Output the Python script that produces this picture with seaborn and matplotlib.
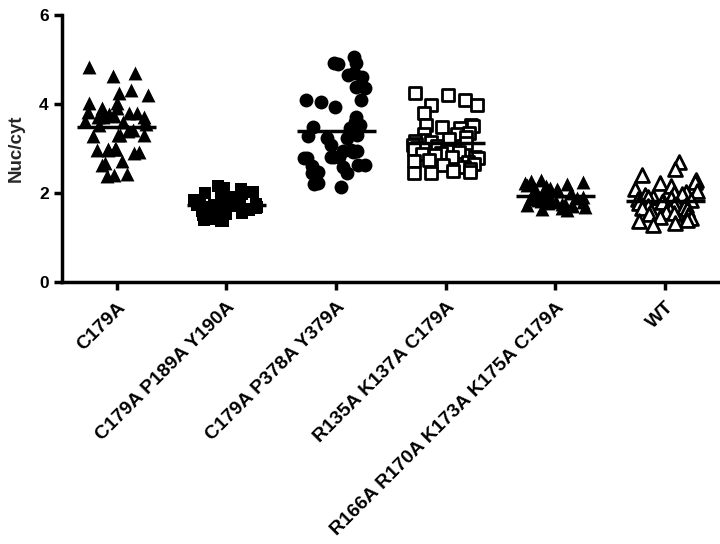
import numpy as np
import pandas as pd
import matplotlib
matplotlib.use("Agg")
import matplotlib.pyplot as plt
import seaborn as sns

# Nuclear/cytoplasmic ratio per construct
categories = [
    "C179A",
    "C179A P189A Y190A",
    "C179A P378A Y379A",
    "R135A K137A C179A",
    "R166A R170A K173A K175A C179A",
    "WT",
]

c179a = [4.84, 4.69, 4.64, 4.31, 4.20, 4.24, 4.02, 4.02, 3.90, 3.90, 3.80,
         3.80, 3.78, 3.82, 3.71, 3.71, 3.70, 3.72, 3.60, 3.61, 3.59, 3.55,
         3.53, 3.30, 3.31, 3.29, 3.30, 3.41, 3.40, 2.99, 2.97, 3.00, 2.98,
         2.99, 2.96, 2.92, 2.90, 2.67, 2.72, 2.64, 2.40, 2.38, 2.42]

c179a_p189a_y190a = [2.15, 2.12, 2.08, 2.05, 2.02, 2.00, 1.98, 1.95, 1.93,
                     1.90, 1.88, 1.86, 1.84, 1.82, 1.80, 1.79, 1.77, 1.76,
                     1.75, 1.74, 1.72, 1.70, 1.69, 1.68, 1.66, 1.64, 1.63,
                     1.61, 1.60, 1.58, 1.56, 1.55, 1.53, 1.50, 1.48, 1.45,
                     1.42, 1.40, 1.38, 1.36]

c179a_p378a_y379a = [5.05, 4.93, 4.89, 4.93, 4.70, 4.61, 4.65, 4.39, 4.35,
                     4.09, 4.09, 4.05, 3.94, 3.70, 3.45, 3.49, 3.23, 3.27,
                     3.23, 3.30, 3.08, 2.94, 2.96, 2.94, 2.92, 2.79, 2.82,
                     2.80, 2.78, 2.81, 2.58, 2.62, 2.64, 2.60, 2.47, 2.45,
                     2.46, 2.22, 2.14, 2.21, 3.60, 3.52]

r135a_k137a_c179a = [4.24, 4.20, 4.09, 3.98, 3.98, 3.80, 3.53, 3.50, 3.52,
                     3.48, 3.46, 3.34, 3.32, 3.33, 3.25, 3.22, 3.20, 3.18,
                     3.15, 3.12, 3.10, 3.08, 3.05, 3.02, 3.00, 2.98, 2.95,
                     2.92, 2.90, 2.88, 2.85, 2.82, 2.80, 2.78, 2.75, 2.72,
                     2.70, 2.66, 2.62, 2.58, 2.55, 2.50, 2.48, 2.46, 2.44]

r166a_quad_c179a = [2.30, 2.28, 2.25, 2.22, 2.20, 2.18, 2.15, 2.12, 2.10,
                    2.08, 2.05, 2.03, 2.01, 1.99, 1.97, 1.95, 1.93, 1.92,
                    1.90, 1.89, 1.87, 1.86, 1.84, 1.83, 1.82, 1.80, 1.79,
                    1.78, 1.76, 1.75, 1.73, 1.72, 1.70, 1.68, 1.66, 1.64,
                    1.62]

wt = [2.70, 2.55, 2.40, 2.29, 2.25, 2.22, 2.15, 2.10, 2.05, 2.02, 2.00, 1.98,
      1.95, 1.92, 1.90, 1.88, 1.86, 1.84, 1.82, 1.80, 1.78, 1.76, 1.74, 1.72,
      1.70, 1.68, 1.66, 1.64, 1.62, 1.60, 1.58, 1.56, 1.53, 1.50, 1.47, 1.44,
      1.40, 1.36, 1.32, 1.28]

series = [c179a, c179a_p189a_y190a, c179a_p378a_y379a,
          r135a_k137a_c179a, r166a_quad_c179a, wt]

y_ticks = [0, 2, 4, 6]
y_label = "Nuc/cyt"

df = pd.DataFrame({
    "group": np.concatenate([[c] * len(v) for c, v in zip(categories, series)]),
    "ratio": np.concatenate(series),
})

# marker style per group: (marker, face, edge width, size)
styles = [
    ("^", "black", 0, 10),
    ("s", "black", 0, 9),
    ("o", "black", 0, 10),
    ("s", "white", 2.0, 8.5),
    ("^", "black", 0, 10),
    ("^", "white", 2.0, 10),
]

sns.set_theme(style="ticks")
plt.rcParams["font.family"] = ["Liberation Sans", "DejaVu Sans"]
plt.rcParams["font.weight"] = "bold"

fig = plt.figure(figsize=(7.2, 5.44), dpi=100)
ax = fig.add_axes([0.086, 0.4816, 0.914, 0.4908])

np.random.seed(7)
for cat, (mk, face, lw, sz) in zip(categories, styles):
    sub = df[df["group"] == cat]
    sns.stripplot(data=sub, x="group", y="ratio", order=categories,
                  marker=mk, color=face, edgecolor="black", linewidth=lw,
                  size=sz, jitter=0.3, ax=ax, zorder=3)

# mean bars
for i, vals in enumerate(series):
    ax.hlines(np.mean(vals), i - 0.36, i + 0.36, color="black",
              linewidth=2.5, zorder=4)

ax.set_xlim(-0.5, 5.5)
ax.set_ylim(0, 6)
ax.set_yticks(y_ticks)
ax.set_yticklabels([str(t) for t in y_ticks], fontsize=12.5, fontweight="bold")
ax.set_xlabel("")
ax.set_ylabel(y_label, fontsize=13.5, fontweight="bold", labelpad=10)
ax.set_xticks(range(len(categories)))
ax.set_xticklabels(categories, rotation=45, ha="right",
                   rotation_mode="anchor", fontsize=14, fontweight="bold")

sns.despine(ax=ax)
for side in ("left", "bottom"):
    ax.spines[side].set_linewidth(2.5)
    ax.spines[side].set_color("black")
ax.tick_params(axis="both", width=2.5, length=6, color="black",
               labelcolor="black")
ax.tick_params(axis="x", pad=6)

fig.savefig("out.png", dpi=100)
